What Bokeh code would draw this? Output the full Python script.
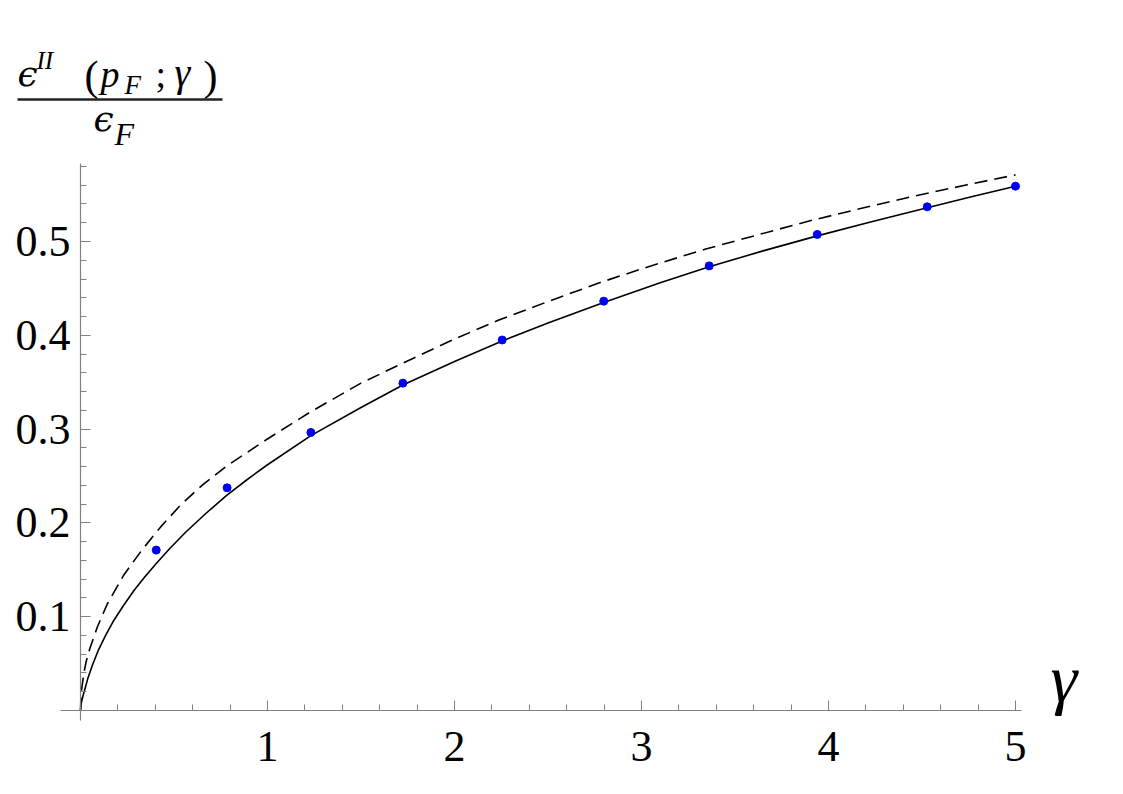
from bokeh.plotting import figure
from bokeh.models import FixedTicker, Label, Arrow, Range1d
from bokeh.embed import file_html
from bokeh.resources import INLINE

# ---- data ----
gamma_solid = [0, 0.004, 0.014, 0.039, 0.065, 0.097, 0.135, 0.178, 0.23, 0.286, 0.34, 0.405, 0.48,
               0.562, 0.67, 0.78, 0.89, 1.0, 1.232, 1.5, 1.724, 2.0, 2.255, 2.5, 2.798, 3.1, 3.362,
               3.65, 3.94, 4.23, 4.528, 4.77, 5.0]
eps_solid = [0, 0.008, 0.016, 0.034, 0.049, 0.065, 0.0804, 0.096, 0.112, 0.128, 0.1416, 0.1568, 0.1732,
             0.190, 0.210, 0.229, 0.246, 0.262, 0.293, 0.323, 0.347, 0.372, 0.394, 0.413, 0.435, 0.456,
             0.473, 0.490, 0.506, 0.521, 0.536, 0.548, 0.559]

gamma_dashed = [0, 0.002, 0.005, 0.018, 0.03, 0.05, 0.09, 0.142, 0.23, 0.328, 0.43, 0.535, 0.65, 0.78,
                1.0, 1.223, 1.5, 1.715, 2.0, 2.234, 2.5, 2.784, 3.05, 3.344, 3.62, 3.919, 4.2, 4.45,
                4.73, 5.0]
eps_dashed = [0, 0.013, 0.021, 0.040, 0.052, 0.066, 0.089, 0.113, 0.144, 0.171, 0.196, 0.219, 0.240, 0.2604,
              0.2895, 0.3175, 0.349, 0.3695, 0.396, 0.416, 0.436, 0.4566, 0.474, 0.492, 0.507, 0.523,
              0.5365, 0.548, 0.560, 0.571]

gamma_dots = [0.405, 0.784, 1.232, 1.724, 2.255, 2.798, 3.362, 3.940, 4.528, 5.0]
eps_dots = [0.171, 0.2374, 0.2964, 0.349, 0.395, 0.4364, 0.474, 0.5075, 0.537, 0.559]

x_major = [1, 2, 3, 4, 5]
x_minor = [0.2, 0.4, 0.6, 0.8, 1.2, 1.4, 1.6, 1.8, 2.2, 2.4, 2.6, 2.8,
           3.2, 3.4, 3.6, 3.8, 4.2, 4.4, 4.6, 4.8]
y_major = [0.1, 0.2, 0.3, 0.4, 0.5]
y_minor = [0.02, 0.04, 0.06, 0.08, 0.12, 0.14, 0.16, 0.18, 0.22, 0.24, 0.26, 0.28,
           0.32, 0.34, 0.36, 0.38, 0.42, 0.44, 0.46, 0.48, 0.52, 0.54, 0.56, 0.58]
x_extent = (-0.107, 5.032)
y_extent = (-0.0107, 0.5832)

SERIF = "Liberation Serif"
EPS_FONT = "DejaVu Serif"
AXIS_GREY = "#808080"

# canvas geometry: data origin at pixel (80, 710), 187 px per gamma unit, 938 px per unit of y
W, H = 1107, 778
X0, Y0, SX, SY = 80.0, 710.0, 187.0, 938.0

p = figure(width=W, height=H,
           x_range=Range1d(-X0 / SX, (W - X0) / SX),
           y_range=Range1d(-(H - Y0) / SY, Y0 / SY),
           output_backend="svg", toolbar_location=None,
           min_border_left=0, min_border_right=0, min_border_top=0, min_border_bottom=0)
p.outline_line_color = None
p.grid.visible = False
p.background_fill_color = "white"
p.border_fill_color = "white"

for ax, major, minor, ext in ((p.xaxis, x_major, x_minor, x_extent),
                              (p.yaxis, y_major, y_minor, y_extent)):
    ax.fixed_location = 0
    ax.bounds = ext
    ax.ticker = FixedTicker(ticks=major, minor_ticks=minor)
    ax.axis_line_color = AXIS_GREY
    ax.axis_line_width = 1.2
    ax.major_tick_line_color = AXIS_GREY
    ax.minor_tick_line_color = AXIS_GREY
    ax.major_tick_in = 10
    ax.major_tick_out = 0
    ax.minor_tick_in = 6
    ax.minor_tick_out = 0
    ax.major_label_text_font = SERIF
    ax.major_label_text_font_size = "44px"
    ax.major_label_text_color = "black"

p.xaxis.major_label_standoff = 21
p.yaxis.major_label_standoff = 10

p.line(gamma_dashed, eps_dashed, line_color="black", line_width=1.6, line_dash="13 7",
       line_join="round")
p.line(gamma_solid, eps_solid, line_color="black", line_width=1.6, line_join="round")
p.scatter(gamma_dots, eps_dots, size=8, color="#0000f0")

# helpers: canvas pixel -> data coordinates (for text placement only)
def dx(px):
    return (px - X0) / SX

def dy(py):
    return (Y0 - py) / SY

def lab(text, px, baseline, size, italic=True, font=SERIF):
    # the label box bottom includes the descent, so lift it by ~0.22 em to sit on the baseline
    p.add_layout(Label(x=dx(px), y=dy(baseline + 0.22 * size), text=text, text_font=font,
                       text_font_size=f"{size}px",
                       text_font_style="italic" if italic else "normal",
                       text_color="black", text_align="left", text_baseline="bottom"))

# y-axis label: fraction  eps^{II}(p_F;gamma) / eps_F
lab("\u03f5", 17, 86, 36, font=EPS_FONT)
lab("II", 36, 68, 25)
lab("(", 84, 89, 42, italic=False)
lab("p", 100, 86, 38)
lab("F", 124, 94, 27)
lab(";", 155, 86, 38, italic=False)
lab("\u03b3", 174, 86, 40)
lab(")", 203, 89, 42, italic=False)
p.add_layout(Arrow(end=None, x_start=dx(17), y_start=dy(99), x_end=dx(222), y_end=dy(99),
                   line_width=2.5, line_color="#222222"))
lab("\u03f5", 93, 131, 36, font=EPS_FONT)
lab("F", 114, 144, 32)

# x-axis label
lab("\u03b3", 1050, 702, 68)

open("out.html", "w").write(file_html(p, INLINE))
